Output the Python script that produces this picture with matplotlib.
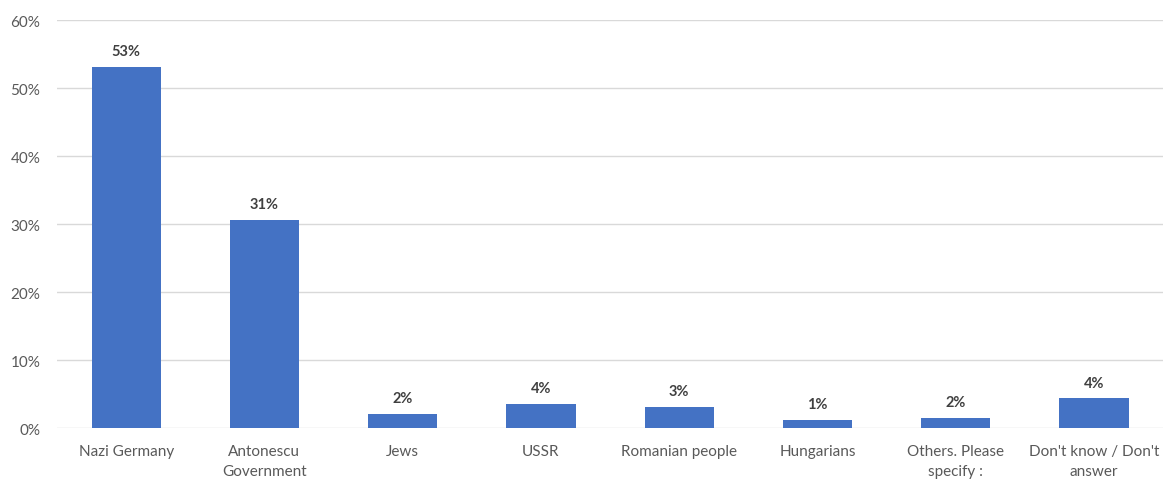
import numpy as np
import matplotlib.pyplot as plt

plt.rcParams['font.family'] = ['Lato', 'DejaVu Sans']

# Survey answers (percent)
categories = ["Nazi Germany", "Antonescu\nGovernment", "Jews", "USSR",
              "Romanian people", "Hungarians", "Others. Please\nspecify :",
              "Don't know / Don't\nanswer"]
values = [53.1, 30.6, 2.1, 3.6, 3.2, 1.2, 1.5, 4.4]
labels = ["53%", "31%", "2%", "4%", "3%", "1%", "2%", "4%"]
yticks = [0, 10, 20, 30, 40, 50, 60]

fig = plt.figure(figsize=(11.69, 4.81), dpi=100)
ax = fig.add_axes([0.0488, 0.1075, 0.9462, 0.8488])

x = np.arange(len(categories))
bars = ax.bar(x, values, width=0.5, color='#4472C4', zorder=3)

for b, lab in zip(bars, labels):
    ax.text(b.get_x() + b.get_width() / 2, b.get_height() + 1.3, lab,
            ha='center', va='bottom', fontsize=10.5, fontweight='bold', color='#404040')

ax.set_xlim(-0.5, len(categories) - 0.5)
ax.set_ylim(0, 60)
ax.set_yticks(yticks)
ax.set_yticklabels([f"{t}%" for t in yticks], fontsize=11, color='#595959')
ax.set_xticks(x)
ax.set_xticklabels(categories, fontsize=11, color='#595959', linespacing=1.55)
ax.tick_params(axis='both', length=0)
ax.tick_params(axis='x', pad=11)
ax.tick_params(axis='y', pad=12)

ax.grid(axis='y', color='#D9D9D9', linewidth=1, zorder=0)
for s in ax.spines.values():
    s.set_visible(False)

fig.savefig('out.png', dpi=100)
